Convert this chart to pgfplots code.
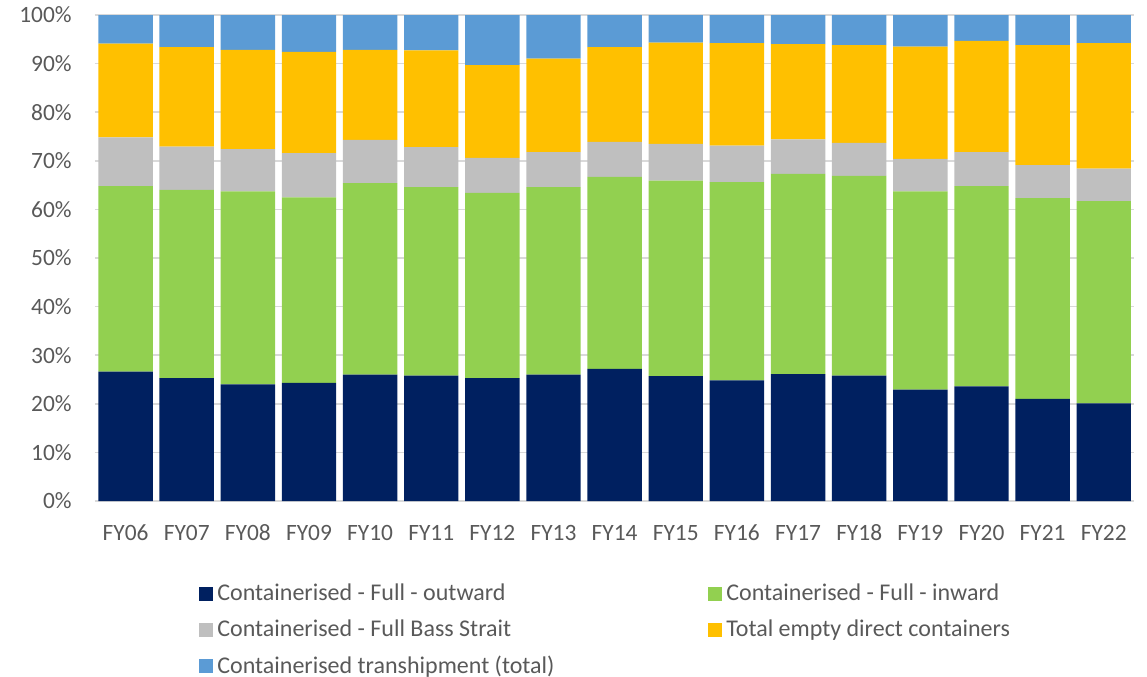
\documentclass[border=0pt]{standalone}
\usepackage{pgfplots}
\pgfplotsset{compat=1.18}
\usepackage{fontspec}
\setmainfont{Carlito}

\definecolor{outward}{HTML}{002060}
\definecolor{inward}{HTML}{92D050}
\definecolor{bass}{HTML}{BFBFBF}
\definecolor{empty}{HTML}{FFC000}
\definecolor{tranship}{HTML}{5B9BD5}
\definecolor{gridgray}{HTML}{D9D9D9}
\definecolor{labelgray}{HTML}{595959}

\begin{document}
\begin{tikzpicture}
\begin{axis}[
  at={(47.5pt,87.5pt)}, anchor=south west,
  scale only axis,
  width=519.65pt, height=243pt,
  ybar stacked, bar width=0.89,
  xmin=-0.5, xmax=16.5, ymin=0, ymax=100,
  enlargelimits=false,
  xtick={0,...,16},
  xticklabels={FY06,FY07,FY08,FY09,FY10,FY11,FY12,FY13,FY14,FY15,FY16,FY17,FY18,FY19,FY20,FY21,FY22},
  ytick={0,10,...,100},
  yticklabels={0\%,10\%,20\%,30\%,40\%,50\%,60\%,70\%,80\%,90\%,100\%},
  major tick length=0pt,
  ymajorgrids, grid style={gridgray, line width=0.75pt},
  axis x line*=bottom, axis y line*=left,
  y axis line style={draw=none},
  x axis line style={gridgray, line width=0.75pt},
  tick label style={font=\fontsize{11.7}{14}\selectfont, text=labelgray},
  yticklabel style={inner sep=0pt, anchor=east, xshift=-11.5pt},
  xticklabel style={inner sep=0pt, anchor=base, yshift=-19.5pt},
  legend columns=2,
  legend cell align=left,
  legend style={
    at={(0.10,-0.162)}, anchor=north west,
    draw=none, fill=none, inner sep=0pt,
    font=\fontsize{12}{14}\selectfont, text=labelgray,
    row sep=4pt,
  },
  legend image code/.code={\fill[#1] (0pt,-3.5pt) rectangle (7pt,3.5pt);},
]
% Containerised - Full - outward
\addplot[fill=outward, draw=none] coordinates {
  (0,26.6) (1,25.3) (2,24.0) (3,24.3) (4,26.0) (5,25.8) (6,25.3) (7,26.0) (8,27.2)
  (9,25.7) (10,24.8) (11,26.1) (12,25.8) (13,22.9) (14,23.6) (15,21.0) (16,20.1)};
% Containerised - Full - inward
\addplot[fill=inward, draw=none] coordinates {
  (0,38.2) (1,38.7) (2,39.7) (3,38.2) (4,39.4) (5,38.8) (6,38.1) (7,38.6) (8,39.5)
  (9,40.2) (10,40.8) (11,41.2) (12,41.1) (13,40.8) (14,41.2) (15,41.3) (16,41.6)};
% Containerised - Full Bass Strait
\addplot[fill=bass, draw=none] coordinates {
  (0,10.0) (1,8.9) (2,8.7) (3,9.1) (4,8.9) (5,8.2) (6,7.2) (7,7.2) (8,7.2)
  (9,7.6) (10,7.5) (11,7.1) (12,6.8) (13,6.7) (14,7.0) (15,6.8) (16,6.7)};
% Total empty direct containers
\addplot[fill=empty, draw=none] coordinates {
  (0,19.3) (1,20.5) (2,20.4) (3,20.8) (4,18.5) (5,19.9) (6,19.1) (7,19.2) (8,19.5)
  (9,20.8) (10,21.1) (11,19.6) (12,20.1) (13,23.1) (14,22.9) (15,24.7) (16,25.8)};
% Containerised transhipment (total)
\addplot[fill=tranship, draw=none] coordinates {
  (0,5.9) (1,6.6) (2,7.2) (3,7.6) (4,7.2) (5,7.3) (6,10.3) (7,9.0) (8,6.6)
  (9,5.7) (10,5.8) (11,6.0) (12,6.2) (13,6.5) (14,5.3) (15,6.2) (16,5.8)};
\legend{\makebox[243.5pt][l]{Containerised - Full - outward},
        Containerised - Full - inward,
        \makebox[243.5pt][l]{Containerised - Full Bass Strait},
        Total empty direct containers,
        Containerised transhipment (total)}
\end{axis}
\pgfresetboundingbox
\path[use as bounding box] (0,0) rectangle (573.5pt,338pt);
\end{tikzpicture}
\end{document}
